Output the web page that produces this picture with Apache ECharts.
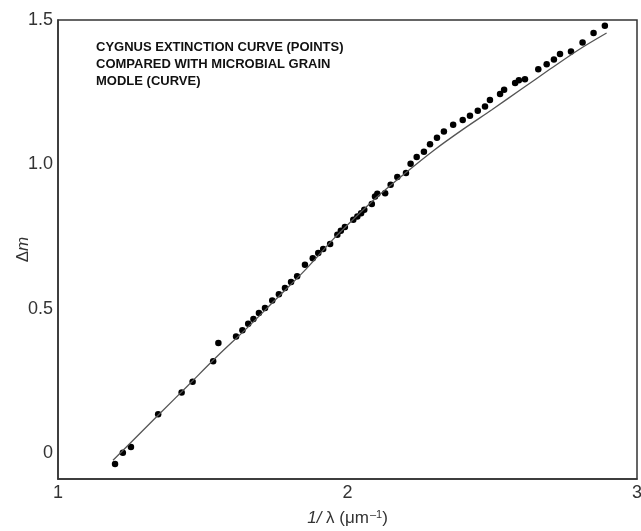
<!DOCTYPE html>
<html>
<head>
<meta charset="utf-8">
<script src="https://cdn.jsdelivr.net/npm/echarts@6/dist/echarts.min.js"></script>
<style>
  html, body { margin: 0; padding: 0; background: #fff; }
  #chart { width: 641px; height: 531px; }
</style>
</head>
<body>
<div id="chart"></div>
<script>
// observed extinction points: [1/lambda, delta m]
const cygnusPoints = [
  [1.197, -0.038], [1.224, 0.001], [1.252, 0.021], [1.346, 0.134], [1.427, 0.210],
  [1.465, 0.247], [1.536, 0.318], [1.554, 0.381], [1.615, 0.404], [1.637, 0.425],
  [1.657, 0.448], [1.675, 0.464], [1.694, 0.485], [1.715, 0.502], [1.740, 0.528],
  [1.763, 0.550], [1.784, 0.572], [1.805, 0.592], [1.826, 0.612], [1.853, 0.652],
  [1.880, 0.675], [1.899, 0.693], [1.916, 0.707], [1.940, 0.724], [1.965, 0.756],
  [1.977, 0.770], [1.991, 0.783], [2.020, 0.808], [2.034, 0.819], [2.047, 0.831],
  [2.058, 0.843], [2.084, 0.863], [2.095, 0.889], [2.103, 0.898], [2.130, 0.900],
  [2.149, 0.929], [2.172, 0.956], [2.202, 0.970], [2.218, 1.002], [2.239, 1.025],
  [2.264, 1.044], [2.285, 1.070], [2.309, 1.092], [2.333, 1.114], [2.365, 1.137],
  [2.398, 1.154], [2.423, 1.168], [2.450, 1.186], [2.475, 1.200], [2.492, 1.223],
  [2.527, 1.244], [2.541, 1.258], [2.579, 1.282], [2.592, 1.291], [2.613, 1.295],
  [2.659, 1.329], [2.688, 1.347], [2.713, 1.363], [2.734, 1.382], [2.772, 1.391],
  [2.812, 1.422], [2.850, 1.455], [2.889, 1.480]
]

// microbial grain model curve
const modelX = [1.19, 1.25, 1.35, 1.45, 1.55, 1.65, 1.75, 1.85, 1.95, 2.0, 2.1, 2.2, 2.3, 2.4, 2.5, 2.6, 2.7, 2.8, 2.895]
const modelY = [-0.025, 0.035, 0.135, 0.235, 0.335, 0.43, 0.53, 0.63, 0.74, 0.79, 0.885, 0.97, 1.05, 1.122, 1.19, 1.26, 1.33, 1.398, 1.455]

const xTicks = [1, 2, 3]
const yTicks = [0, 0.5, 1.0, 1.5]

const titleLines = ['CYGNUS EXTINCTION CURVE (POINTS)', 'COMPARED WITH MICROBIAL GRAIN', 'MODLE (CURVE)']

const font = 'Liberation Sans, Arial, Helvetica, sans-serif'
const chart = echarts.init(document.getElementById('chart'))

chart.setOption({
  animation: false,
  title: {
    text: titleLines.join('\n'),
    left: 91, top: 34,
    textStyle: { fontFamily: font, fontSize: 13, fontWeight: 'bold', color: '#111', lineHeight: 17 }
  },
  grid: {
    left: 58, top: 20, right: 4, bottom: 52,
    outerBoundsMode: 'none',
    show: true, borderColor: '#333', borderWidth: 1.5
  },
  xAxis: {
    type: 'value', min: 1, max: 3, interval: 1,
    axisLine: { show: true, onZero: false, lineStyle: { color: '#333', width: 1.5 } },
    axisTick: { show: false },
    splitLine: { show: false },
    axisLabel: { fontFamily: font, fontSize: 18, color: '#333', margin: 5, customValues: xTicks },
    name: '{i|1/}{n| λ (μm}{s|–1}{n|)}',
    nameLocation: 'middle', nameGap: 30, nameMoveOverlap: false,
    nameTextStyle: {
      rich: {
        i: { fontFamily: font, fontSize: 17, fontStyle: 'italic', color: '#333' },
        n: { fontFamily: font, fontSize: 17, color: '#333' },
        s: { fontFamily: font, fontSize: 11, color: '#333', padding: [0, 0, 8, 1] }
      }
    }
  },
  yAxis: {
    type: 'value', min: -0.09, max: 1.5,
    axisLine: { show: true, lineStyle: { color: '#333', width: 1.5 } },
    axisTick: { show: false },
    splitLine: { show: false },
    axisLabel: {
      fontFamily: font, fontSize: 18, color: '#333', margin: 5,
      customValues: yTicks,
      formatter: v => v === 0 ? '0' : v.toFixed(1)
    },
    name: '{n|Δ}{i|m}',
    nameLocation: 'middle', nameGap: 26, nameRotate: 90, nameMoveOverlap: false,
    nameTextStyle: {
      rich: {
        n: { fontFamily: font, fontSize: 17, color: '#333' },
        i: { fontFamily: font, fontSize: 17, fontStyle: 'italic', color: '#333' }
      }
    }
  },
  series: [
    {
      type: 'line',
      data: modelX.map((x, i) => [x, modelY[i]]),
      smooth: 0.3,
      symbol: 'none',
      lineStyle: { color: '#555', width: 1.3 }
    },
    {
      type: 'scatter',
      data: cygnusPoints,
      symbol: 'circle', symbolSize: 6.5,
      itemStyle: { color: '#000', opacity: 1 }
    }
  ]
})
</script>
</body>
</html>
